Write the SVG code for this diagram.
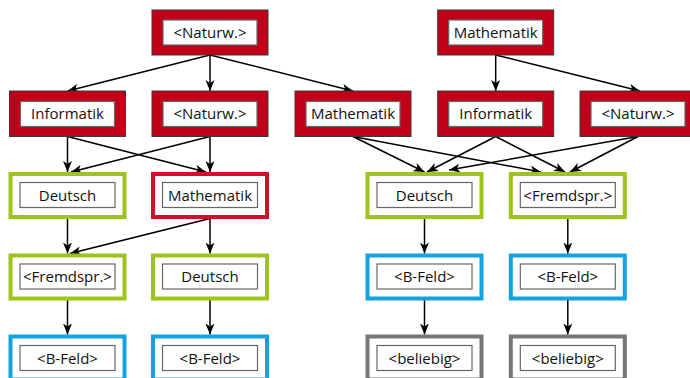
<svg xmlns="http://www.w3.org/2000/svg" width="690" height="378" viewBox="0 0 690 378">
<defs>
<marker id="ah" viewBox="-11 -5 12 10" markerWidth="12" markerHeight="10" refX="0" refY="0" orient="auto" markerUnits="userSpaceOnUse">
<path d="M0,0 L-11,-4.5 L-8,0 L-11,4.5 Z" fill="#000"/>
</marker>
</defs>
<style>
.rf{fill:#c00018;stroke:#3a3a3a;stroke-width:1}
.rt{fill:#fff;stroke:#d0102a;stroke-width:4}
.gt{fill:#fff;stroke:#9dc41a;stroke-width:4}
.bt{fill:#fff;stroke:#12a3e0;stroke-width:4}
.yt{fill:#fff;stroke:#777;stroke-width:4}
.in{fill:#fff;stroke:#666;stroke-width:1.2}
text{font-family:"Open Sans","Liberation Sans",sans-serif;font-size:15px;fill:#111;text-anchor:middle}
.c line{stroke:#000;stroke-width:1.5;marker-end:url(#ah)}
</style>
<g class="c" id="connectors">
<line x1="210" y1="55" x2="67.5" y2="91"/>
<line x1="210" y1="55" x2="210" y2="91"/>
<line x1="210" y1="55" x2="353" y2="91"/>
<line x1="67.5" y1="136.5" x2="67.5" y2="172"/>
<line x1="67.5" y1="136.5" x2="206" y2="172"/>
<line x1="210" y1="136.5" x2="71" y2="172"/>
<line x1="210" y1="136.5" x2="210" y2="172"/>
<line x1="67.5" y1="218.5" x2="67.5" y2="253.5"/>
<line x1="210" y1="218.5" x2="70" y2="253.5"/>
<line x1="210" y1="218.5" x2="210" y2="253.5"/>
<line x1="67.5" y1="300" x2="67.5" y2="334.5"/>
<line x1="210" y1="300" x2="210" y2="334.5"/>
<line x1="495.7" y1="55" x2="495.7" y2="91"/>
<line x1="495.7" y1="55" x2="640" y2="91"/>
<line x1="353" y1="136.5" x2="424.5" y2="172"/>
<line x1="353" y1="136.5" x2="541" y2="172"/>
<line x1="495.7" y1="136.5" x2="427" y2="172"/>
<line x1="495.7" y1="136.5" x2="565" y2="172"/>
<line x1="638" y1="136.5" x2="449" y2="170"/>
<line x1="638" y1="136.5" x2="570" y2="172"/>
<line x1="424.5" y1="218.5" x2="424.5" y2="253.5"/>
<line x1="567.8" y1="218.5" x2="567.8" y2="253.5"/>
<line x1="424.5" y1="300" x2="424.5" y2="334.5"/>
<line x1="567.8" y1="300" x2="567.8" y2="334.5"/>
</g>
<g id="n1"><rect class="rf" x="152" y="10" width="116" height="45"/><rect class="in" x="163" y="20" width="94" height="25"/><text x="210" y="37.5">&lt;Naturw.&gt;</text></g>
<g id="n2"><rect class="rf" x="437.7" y="10" width="116" height="45"/><rect class="in" x="448.7" y="20" width="94" height="25"/><text x="495.7" y="37.5">Mathematik</text></g>
<g id="n3"><rect class="rf" x="9.5" y="91" width="116" height="45.5"/><rect class="in" x="20.5" y="101.5" width="94" height="25"/><text x="67.5" y="119">Informatik</text></g>
<g id="n4"><rect class="rf" x="152" y="91" width="116" height="45.5"/><rect class="in" x="163" y="101.5" width="94" height="25"/><text x="210" y="119">&lt;Naturw.&gt;</text></g>
<g id="n5"><rect class="rf" x="295" y="91" width="116" height="45.5"/><rect class="in" x="306" y="101.5" width="94" height="25"/><text x="353" y="119">Mathematik</text></g>
<g id="n6"><rect class="rf" x="437.7" y="91" width="116" height="45.5"/><rect class="in" x="448.7" y="101.5" width="94" height="25"/><text x="495.7" y="119">Informatik</text></g>
<g id="n7"><rect class="rf" x="580" y="91" width="116" height="45.5"/><rect class="in" x="591" y="101.5" width="94" height="25"/><text x="638" y="119">&lt;Naturw.&gt;</text></g>
<g id="n8"><rect class="gt" x="10.5" y="174" width="114" height="43"/><rect class="in" x="20" y="182.5" width="95" height="25"/><text x="67.5" y="200.5">Deutsch</text></g>
<g id="n9"><rect class="rt" x="153" y="174" width="114" height="43"/><rect class="in" x="162.5" y="182.5" width="95" height="25"/><text x="210" y="200.5">Mathematik</text></g>
<g id="n10"><rect class="gt" x="367.5" y="174" width="114" height="43"/><rect class="in" x="377" y="182.5" width="95" height="25"/><text x="424.5" y="200.5">Deutsch</text></g>
<g id="n11"><rect class="gt" x="510.8" y="174" width="114" height="43"/><rect class="in" x="520.3" y="182.5" width="95" height="25"/><text x="567.8" y="200.5">&lt;Fremdspr.&gt;</text></g>
<g id="n12"><rect class="gt" x="10.5" y="255.5" width="114" height="43"/><rect class="in" x="20" y="264" width="95" height="25"/><text x="67.5" y="282">&lt;Fremdspr.&gt;</text></g>
<g id="n13"><rect class="gt" x="153" y="255.5" width="114" height="43"/><rect class="in" x="162.5" y="264" width="95" height="25"/><text x="210" y="282">Deutsch</text></g>
<g id="n14"><rect class="bt" x="367.5" y="255.5" width="114" height="43"/><rect class="in" x="377" y="264" width="95" height="25"/><text x="424.5" y="282">&lt;B-Feld&gt;</text></g>
<g id="n15"><rect class="bt" x="510.8" y="255.5" width="114" height="43"/><rect class="in" x="520.3" y="264" width="95" height="25"/><text x="567.8" y="282">&lt;B-Feld&gt;</text></g>
<g id="n16"><rect class="bt" x="10.5" y="336.5" width="114" height="43"/><rect class="in" x="20" y="345.5" width="95" height="25"/><text x="67.5" y="363.5">&lt;B-Feld&gt;</text></g>
<g id="n17"><rect class="bt" x="153" y="336.5" width="114" height="43"/><rect class="in" x="162.5" y="345.5" width="95" height="25"/><text x="210" y="363.5">&lt;B-Feld&gt;</text></g>
<g id="n18"><rect class="yt" x="367.5" y="336.5" width="114" height="43"/><rect class="in" x="377" y="345.5" width="95" height="25"/><text x="424.5" y="363.5">&lt;beliebig&gt;</text></g>
<g id="n19"><rect class="yt" x="510.8" y="336.5" width="114" height="43"/><rect class="in" x="520.3" y="345.5" width="95" height="25"/><text x="567.8" y="363.5">&lt;beliebig&gt;</text></g>
</svg>
